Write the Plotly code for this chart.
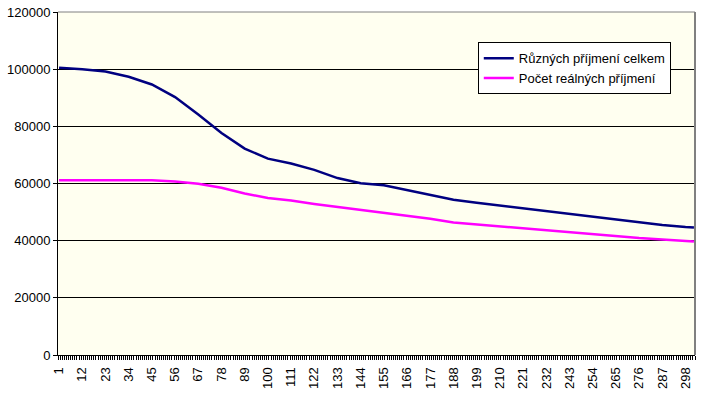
import plotly.graph_objects as go

# category positions where values were read (x axis category numbers)
categories = [1, 12, 23, 34, 45, 56, 67, 78, 89, 100, 111, 122, 133, 144, 155, 166,
              177, 188, 199, 210, 221, 232, 243, 254, 265, 276, 287, 298, 302]

ruznych_celkem = [100500, 100000, 99200, 97350, 94650, 90250, 84100, 77700, 72200, 68700,
                  67000, 64750, 61900, 60100, 59350, 57650, 56000, 54300, 53250, 52250,
                  51250, 50200, 49200, 48200, 47200, 46200, 45450, 44750, 44600]

pocet_realnych = [61100, 61100, 61100, 61100, 61100, 60700, 59900, 58500, 56500, 54900,
                  54050, 52850, 51850, 50800, 49800, 48750, 47700, 46350, 45650, 44950,
                  44250, 43550, 42850, 42150, 41600, 40900, 40450, 39750, 39700]

tick_labels = [1, 12, 23, 34, 45, 56, 67, 78, 89, 100, 111, 122, 133, 144, 155, 166,
               177, 188, 199, 210, 221, 232, 243, 254, 265, 276, 287, 298]
n_categories = 302

fig = go.Figure()
fig.add_trace(go.Scatter(x=categories, y=ruznych_celkem, mode="lines",
                         name="Různých příjmení celkem",
                         line=dict(color="#000080", width=2.5)))
fig.add_trace(go.Scatter(x=categories, y=pocet_realnych, mode="lines",
                         name="Počet reálných příjmení",
                         line=dict(color="#FF00FF", width=2.5)))

font = dict(family="Liberation Sans, Arial, sans-serif", size=13, color="black")

fig.update_layout(
    width=707, height=393,
    margin=dict(l=58, r=12, t=12, b=38),
    paper_bgcolor="white",
    plot_bgcolor="#FFFFF0",
    font=font,
    showlegend=True,
    legend=dict(x=0.659, y=0.912, xanchor="left", yanchor="top",
                bgcolor="white", bordercolor="black", borderwidth=1,
                font=font, itemwidth=30, tracegroupgap=0),
    xaxis=dict(range=[0.5, n_categories + 0.5], tickmode="array",
               tickvals=tick_labels, ticktext=[str(t) for t in tick_labels],
               tickangle=-90, ticks="", ticklabelstandoff=6,
               showgrid=False, zeroline=False,
               showline=True, linecolor="black", linewidth=1, automargin=False,
               minor=dict(ticks="outside", ticklen=4, tickcolor="black",
                          dtick=1, tick0=0.5, showgrid=False),
               tickfont=font),
    yaxis=dict(range=[0, 120000], dtick=20000, tickformat="d",
               ticks="outside", ticklen=4, tickcolor="black", automargin=False,
               showgrid=True, gridcolor="black", gridwidth=1,
               zeroline=False, showline=True, linecolor="black", linewidth=1,
               tickfont=font),
    shapes=[
        dict(type="line", xref="x domain", yref="y domain", x0=0, x1=1, y0=1, y1=1,
             line=dict(color="#808080", width=1), layer="above"),
        dict(type="line", xref="x domain", yref="y domain", x0=1, x1=1, y0=0, y1=1,
             line=dict(color="#808080", width=2), layer="above"),
    ],
)

fig.write_html("out.html", config={"displayModeBar": False},
               post_script="document.body.style.margin='0';")
